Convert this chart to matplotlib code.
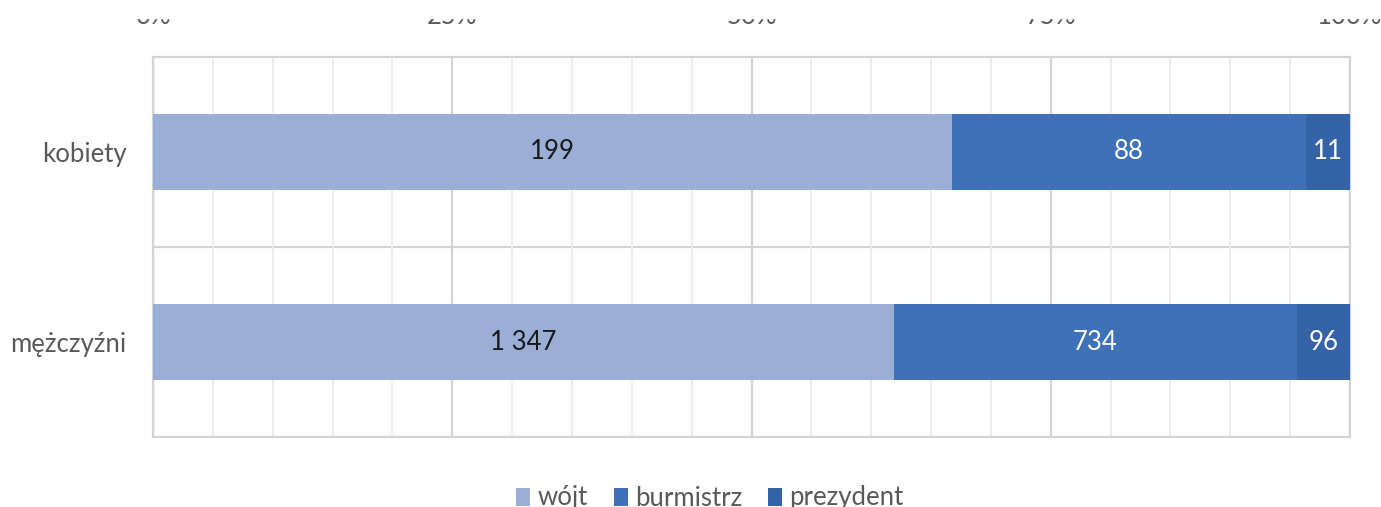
import numpy as np
import matplotlib.pyplot as plt
from matplotlib.patches import Rectangle
from matplotlib.ticker import MultipleLocator, FuncFormatter

# Dane
kategorie = ['kobiety', 'mężczyźni']
serie = ['wójt', 'burmistrz', 'prezydent']
wojt = [199, 1347]
burmistrz = [88, 734]
prezydent = [11, 96]

kolory = ['#9AAED6', '#3F71B8', '#3463A8']
kolory_etykiet = ['#1a1a1a', 'white', 'white']

plt.rcParams['font.family'] = ['Lato', 'DejaVu Sans']

def fmt_liczba(v):
    return '{:,}'.format(v).replace(',', ' ')

def main():
    fig = plt.figure(figsize=(13.81, 5.07), dpi=100)
    ax = fig.add_axes([153/1381, 1-437/507, 1197/1381, 380/507])

    wartosci = np.array([wojt, burmistrz, prezydent], dtype=float)
    sumy = wartosci.sum(axis=0)
    udzialy = wartosci / sumy

    y = np.arange(len(kategorie))
    lewo = np.zeros(len(kategorie))
    for i, nazwa in enumerate(serie):
        ax.barh(y, udzialy[i], left=lewo, height=0.4, color=kolory[i],
                label=nazwa, zorder=3)
        for j in range(len(kategorie)):
            ax.text(lewo[j] + udzialy[i][j]/2, y[j], fmt_liczba(int(wartosci[i][j])),
                    ha='center', va='center', fontsize=18.5, color=kolory_etykiet[i],
                    zorder=4)
        lewo += udzialy[i]

    ax.set_xlim(0, 1)
    ax.set_ylim(-0.5, len(kategorie) - 0.5)
    ax.invert_yaxis()

    # siatka
    ax.xaxis.set_major_locator(MultipleLocator(0.25))
    ax.xaxis.set_minor_locator(MultipleLocator(0.05))
    ax.xaxis.set_major_formatter(FuncFormatter(lambda v, p: '{:.0f}%'.format(v*100)))
    ax.grid(which='minor', axis='x', color='#EBEBEB', linewidth=1.3, zorder=0)
    ax.grid(which='major', axis='x', color='#D4D4D4', linewidth=1.6, zorder=1)
    ax.axhline(0.5, color='#D4D4D4', linewidth=1.6, zorder=1)

    ax.xaxis.tick_top()
    ax.tick_params(axis='x', which='both', length=0, pad=20, labelsize=18.5,
                   labelcolor='#595959')
    ax.set_yticks(y)
    ax.set_yticklabels(kategorie)
    ax.tick_params(axis='y', length=0, pad=19, labelsize=18.5, labelcolor='#595959')

    for s in ax.spines.values():
        s.set_color('#D4D4D4')
        s.set_linewidth(1.6)

    leg = fig.legend(loc='center', bbox_to_anchor=(0.514, 1-498/507), ncol=3,
                     frameon=False, fontsize=18.5, handlelength=0.55, handleheight=0.7,
                     handletextpad=0.28, columnspacing=1.0)
    for t in leg.get_texts():
        t.set_color('#595959')

    # przycięcie górnej krawędzi jak w oryginale
    fig.patches.append(Rectangle((0, 1-18/507), 1, 18/507, transform=fig.transFigure,
                                 color='white', zorder=10))

    fig.savefig('out.png', dpi=100)

if __name__ == "__main__":
    main()
